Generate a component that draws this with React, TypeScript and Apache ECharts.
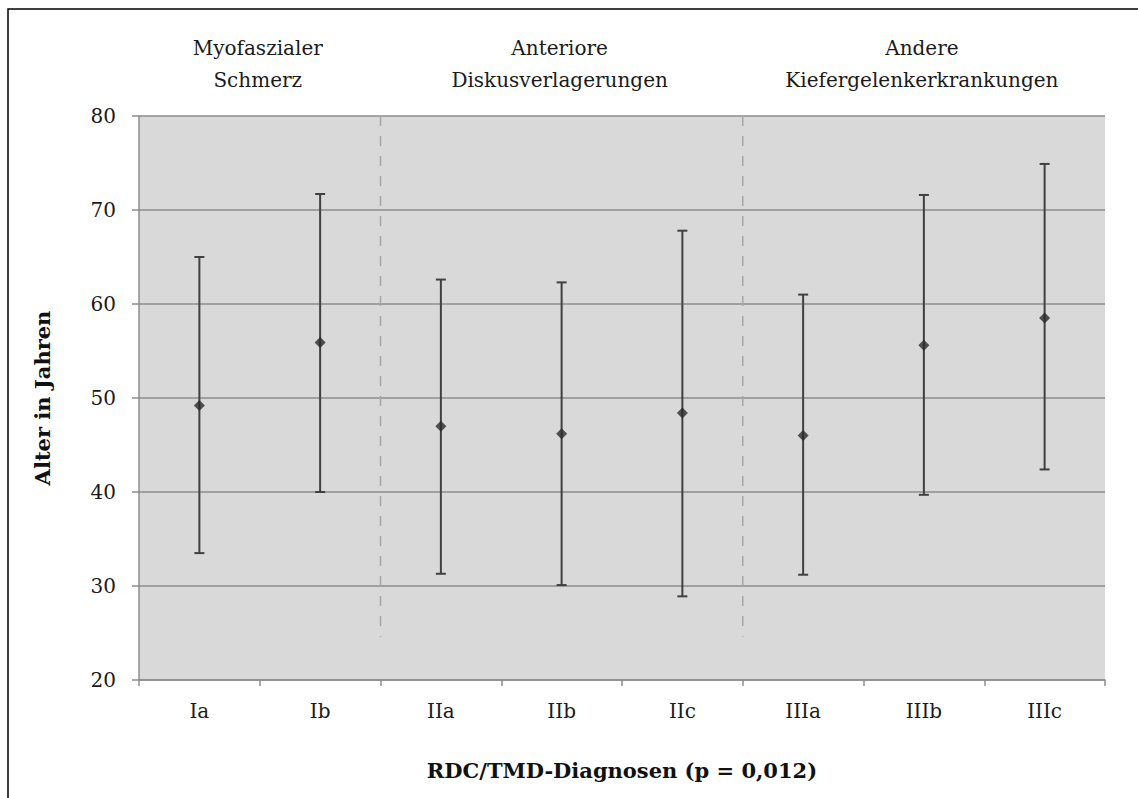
import React, { useEffect, useRef } from "react";
import * as echarts from "echarts";

const categories = ["Ia", "Ib", "IIa", "IIb", "IIc", "IIIa", "IIIb", "IIIc"];
const means = [49.2, 55.9, 47.0, 46.2, 48.4, 46.0, 55.6, 58.5];
const lows = [33.5, 40.0, 31.3, 30.1, 28.9, 31.2, 39.7, 42.4];
const highs = [65.0, 71.7, 62.6, 62.3, 67.8, 61.0, 71.6, 74.9];
const groupNames = ["Myofaszialer\nSchmerz", "Anteriore\nDiskusverlagerungen", "Andere\nKiefergelenkerkrankungen"];
const groupStart = [0, 2, 5];
const groupEnd = [1, 4, 7];
const separatorsAfter = [1, 4];
const separatorTop = 80;
const separatorBottom = 24.6;
const yTicks = [20, 30, 40, 50, 60, 70, 80];

const FONT = "DejaVu Serif";

export default function App() {
  const ref = useRef<HTMLDivElement>(null);
  useEffect(() => {
    document.body.style.margin = "0";
    const chart = echarts.init(ref.current!, null, { renderer: "svg" });
    const errData = categories.map((_, i) => [i, lows[i], highs[i]]);
    const sepData = separatorsAfter.map((i) => [i, separatorTop, separatorBottom]);
    const grpData = groupStart.map((s, i) => [s, groupEnd[i]]);
    chart.setOption({
      animation: false,
      backgroundColor: "#ffffff",
      textStyle: { fontFamily: FONT },
      graphic: [
        {
          type: "rect",
          shape: { x: 8, y: 9, width: 1200, height: 900 },
          style: { fill: "none", stroke: "#000", lineWidth: 1.5 },
          silent: true,
          z: 100,
        },
      ],
      grid: { left: 139, top: 116, width: 966, height: 564, containLabel: false, backgroundColor: "#d9d9d9", show: true, borderWidth: 0 },
      xAxis: {
        type: "category",
        data: categories,
        boundaryGap: true,
        axisLine: { show: true, lineStyle: { color: "#8c8c8c", width: 1.5 } },
        axisTick: { show: true, length: 6, interval: 0, lineStyle: { color: "#8c8c8c", width: 1.5 } },
        axisLabel: { color: "#1a1a1a", fontSize: 20, margin: 21, fontFamily: FONT },
        splitLine: { show: false },
        name: "RDC/TMD-Diagnosen (p = 0,012)",
        nameLocation: "middle",
        nameGap: 80,
        nameTextStyle: { color: "#111", fontSize: 21, fontWeight: "bold", fontFamily: FONT },
      },
      yAxis: {
        type: "value",
        min: 20,
        max: 80,
        interval: 10,
        axisLine: { show: true, lineStyle: { color: "#8c8c8c", width: 1.5 } },
        axisTick: { show: true, length: 7, lineStyle: { color: "#8c8c8c", width: 1.5 } },
        axisLabel: {
          color: "#1a1a1a",
          fontSize: 20,
          margin: 23,
          fontFamily: FONT,
          formatter: (v: number) => (yTicks.includes(v) ? String(v) : ""),
        },
        splitLine: { show: true, lineStyle: { color: "#8c8c8c", width: 1.5 } },
        name: "Alter in Jahren",
        nameLocation: "middle",
        nameGap: 86,
        nameTextStyle: { color: "#111", fontSize: 21, fontWeight: "bold", fontFamily: FONT },
      },
      series: [
        {
          type: "custom",
          name: "sep",
          data: sepData,
          z: 2,
          renderItem: (params: any, api: any) => {
            const idx = api.value(0);
            const half = api.size([1, 0])[0] / 2;
            const p1 = api.coord([idx, api.value(1)]);
            const p2 = api.coord([idx, api.value(2)]);
            const x = p1[0] + half;
            return {
              type: "line",
              shape: { x1: x, y1: p1[1], x2: x, y2: p2[1] },
              style: { stroke: "#a6a6a6", lineWidth: 1.5, lineDash: [10, 10] },
            };
          },
        },
        {
          type: "custom",
          name: "groups",
          data: grpData,
          z: 3,
          renderItem: (params: any, api: any) => {
            const s = api.value(0);
            const e = api.value(1);
            const a = api.coord([s, 80]);
            const b = api.coord([e, 80]);
            const x = (a[0] + b[0]) / 2;
            return {
              type: "text",
              style: {
                text: groupNames[params.dataIndex],
                x: x - 2,
                y: 32,
                align: "center",
                verticalAlign: "top",
                fill: "#1a1a1a",
                font: "20px 'DejaVu Serif'",
                fontSize: 20,
                fontFamily: FONT,
                lineHeight: 32,
              },
            };
          },
        },
        {
          type: "custom",
          name: "err",
          data: errData,
          z: 5,
          renderItem: (params: any, api: any) => {
            const i = api.value(0);
            const lo = api.coord([i, api.value(1)]);
            const hi = api.coord([i, api.value(2)]);
            const w = 5;
            const st = { stroke: "#404040", lineWidth: 2 };
            return {
              type: "group",
              children: [
                { type: "line", shape: { x1: lo[0], y1: lo[1], x2: hi[0], y2: hi[1] }, style: st },
                { type: "line", shape: { x1: lo[0] - w, y1: lo[1], x2: lo[0] + w, y2: lo[1] }, style: st },
                { type: "line", shape: { x1: hi[0] - w, y1: hi[1], x2: hi[0] + w, y2: hi[1] }, style: st },
              ],
            };
          },
        },
        {
          type: "scatter",
          name: "mean",
          data: means,
          symbol: "diamond",
          symbolSize: [11, 11],
          itemStyle: { color: "#2b2b2b" },
          z: 6,
        },
      ],
    });
    return () => chart.dispose();
  }, []);
  return <div ref={ref} style={{ width: 1138, height: 798 }} />;
}
